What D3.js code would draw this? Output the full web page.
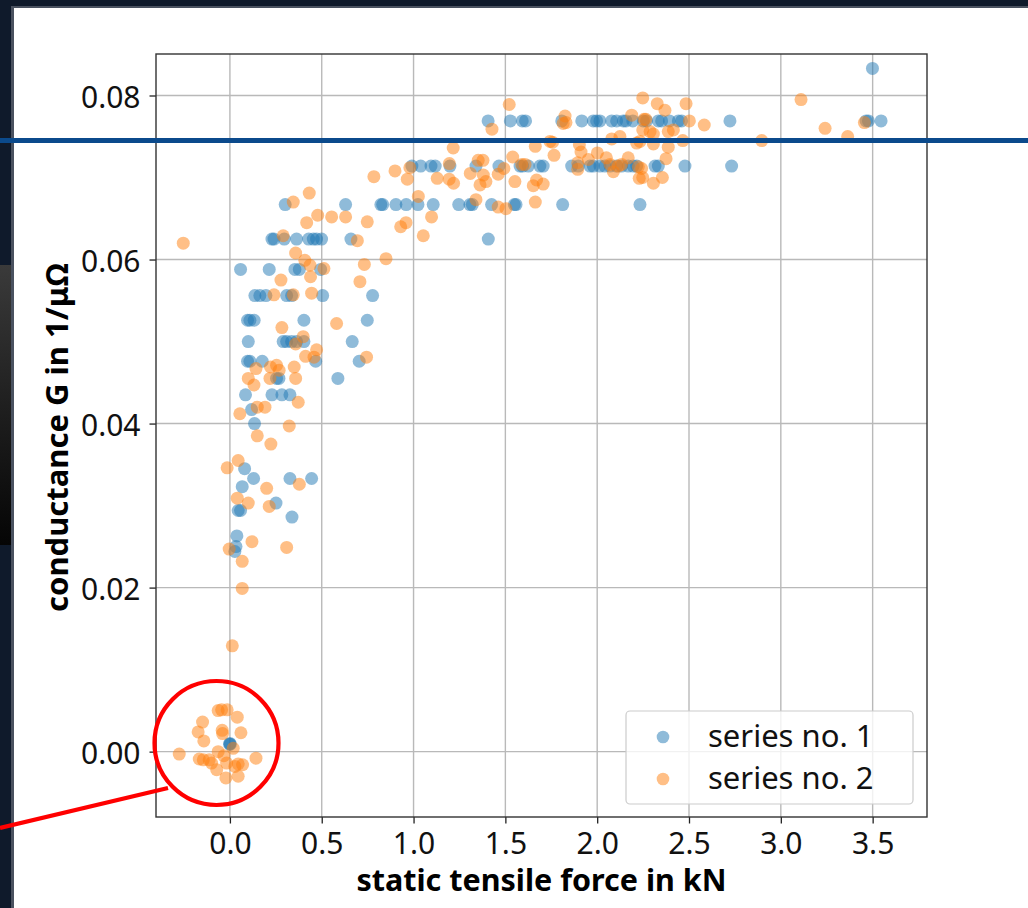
<!DOCTYPE html>
<html>
<head>
<meta charset="utf-8">
<script src="https://cdn.jsdelivr.net/npm/d3@7"></script>
<style>
  html, body { margin: 0; padding: 0; background: #0f1a2b; }
  svg { display: block; }
</style>
</head>
<body>
<svg id="chart" width="1028" height="908"></svg>
<script>
// ---------------- data ----------------
const xTicks = [0.0, 0.5, 1.0, 1.5, 2.0, 2.5, 3.0, 3.5];
const yTicks = [0.00, 0.02, 0.04, 0.06, 0.08];
const seriesNames = ["series no. 1", "series no. 2"];
const xLabel = "static tensile force in kN";
const yLabel = "conductance G in 1/\u03bc\u03a9";

// series no. 1 : [force kN, conductance 1/µΩ]
const series1 = [
  [3.499, 0.0833],
  [1.406, 0.0769], [1.527, 0.0769], [1.592, 0.0769], [1.610, 0.0769], [1.807, 0.0769], [1.916, 0.0769],
  [1.979, 0.0769], [1.997, 0.0769], [2.015, 0.0769], [2.079, 0.0769], [2.106, 0.0769], [2.142, 0.0769],
  [2.157, 0.0769], [2.194, 0.0769], [2.251, 0.0769], [2.269, 0.0769], [2.333, 0.0769], [2.351, 0.0769],
  [2.393, 0.0769], [2.442, 0.0769], [2.460, 0.0769], [2.723, 0.0769], [3.464, 0.0769], [3.477, 0.0769],
  [3.546, 0.0769],
  [0.991, 0.0714], [1.039, 0.0714], [1.095, 0.0714], [1.118, 0.0714], [1.198, 0.0714], [1.340, 0.0714],
  [1.465, 0.0714], [1.580, 0.0714], [1.594, 0.0714], [1.625, 0.0714], [1.688, 0.0714], [1.706, 0.0714],
  [1.861, 0.0714], [1.897, 0.0714], [1.961, 0.0714], [1.979, 0.0714], [2.015, 0.0714], [2.042, 0.0714],
  [2.070, 0.0714], [2.106, 0.0714], [2.133, 0.0714], [2.169, 0.0714], [2.196, 0.0714], [2.215, 0.0714],
  [2.315, 0.0714], [2.333, 0.0714], [2.478, 0.0714], [2.732, 0.0714],
  [0.301, 0.0667], [0.630, 0.0667], [0.822, 0.0667], [0.832, 0.0667], [0.904, 0.0667], [0.960, 0.0667],
  [1.024, 0.0667], [1.107, 0.0667], [1.246, 0.0667], [1.307, 0.0667], [1.320, 0.0667], [1.425, 0.0667],
  [1.549, 0.0667], [1.558, 0.0667], [1.812, 0.0667], [2.233, 0.0667],
  [0.229, 0.0625], [0.240, 0.0625], [0.296, 0.0625], [0.363, 0.0625], [0.429, 0.0625], [0.454, 0.0625],
  [0.472, 0.0625], [0.499, 0.0625], [0.659, 0.0625], [1.407, 0.0625],
  [0.058, 0.0588], [0.214, 0.0588], [0.354, 0.0588], [0.378, 0.0588], [0.494, 0.0588],
  [0.136, 0.0556], [0.163, 0.0556], [0.196, 0.0556], [0.309, 0.0556], [0.336, 0.0556], [0.505, 0.0556],
  [0.777, 0.0556],
  [0.096, 0.0526], [0.109, 0.0526], [0.132, 0.0526], [0.403, 0.0526], [0.748, 0.0526],
  [0.100, 0.0500], [0.290, 0.0500], [0.309, 0.0500], [0.336, 0.0500], [0.363, 0.0500], [0.403, 0.0500],
  [0.666, 0.0500],
  [0.096, 0.0476], [0.109, 0.0476], [0.176, 0.0476], [0.467, 0.0476], [0.704, 0.0476],
  [0.254, 0.0455], [0.267, 0.0455], [0.588, 0.0455],
  [0.085, 0.0435], [0.229, 0.0435], [0.283, 0.0435], [0.327, 0.0435],
  [0.118, 0.0417], [0.134, 0.0400], [0.080, 0.0345],
  [0.129, 0.0333], [0.327, 0.0333], [0.445, 0.0333],
  [0.067, 0.0323], [0.251, 0.0303], [0.045, 0.0294], [0.058, 0.0294], [0.338, 0.0286],
  [0.038, 0.0263], [0.033, 0.0250], [0.027, 0.0244],
  [0.000, 0.0010], [0.002, 0.0009], [-0.002, 0.0009]
];

// series no. 2 : [force kN, conductance 1/µΩ]
const series2 = [
  [-0.064, 0.0050], [-0.045, 0.0051], [-0.015, 0.0051], [0.040, 0.0042], [-0.149, 0.0036], [-0.173, 0.0024],
  [-0.142, 0.0013], [-0.042, 0.0026], [-0.040, 0.0022], [0.060, 0.0023], [-0.276, -0.0003], [-0.167, -0.0009],
  [-0.145, -0.0010], [-0.113, -0.0010], [-0.100, -0.0014], [-0.072, -0.0022], [-0.064, 0.0000], [-0.033, -0.0005],
  [-0.018, -0.0014], [0.018, 0.0004], [0.027, -0.0018], [0.045, -0.0015], [0.069, -0.0016], [0.045, -0.0030],
  [-0.022, -0.0032], [0.142, -0.0008], [0.013, 0.0129],
  [0.283, 0.0517], [0.581, 0.0522], [0.399, 0.0506], [0.358, 0.0497], [0.412, 0.0482], [0.472, 0.0490],
  [0.458, 0.0481], [0.744, 0.0481], [0.142, 0.0467], [0.221, 0.0469], [0.254, 0.0471], [0.268, 0.0465],
  [0.350, 0.0469], [0.100, 0.0455], [0.131, 0.0447], [0.218, 0.0455], [0.358, 0.0455], [0.372, 0.0426],
  [0.149, 0.0420], [0.191, 0.0420], [0.054, 0.0412], [0.323, 0.0397], [0.149, 0.0385], [0.223, 0.0375],
  [0.045, 0.0355], [-0.015, 0.0346], [0.200, 0.0321], [0.378, 0.0326], [0.040, 0.0309], [0.100, 0.0303],
  [0.214, 0.0299], [0.120, 0.0256], [-0.004, 0.0247], [0.309, 0.0249], [0.067, 0.0232], [0.067, 0.0199],
  [-0.254, 0.0620], [0.345, 0.0670], [0.432, 0.0681], [0.784, 0.0701], [0.290, 0.0629], [0.418, 0.0645],
  [0.478, 0.0654], [0.554, 0.0652], [0.630, 0.0652], [0.748, 0.0646], [0.930, 0.0640], [0.358, 0.0608],
  [0.408, 0.0599], [0.436, 0.0593], [0.439, 0.0579], [0.512, 0.0589], [0.278, 0.0575], [0.240, 0.0557],
  [0.345, 0.0557], [0.445, 0.0559], [0.694, 0.0623], [0.732, 0.0594], [0.708, 0.0573], [0.850, 0.0601],
  [1.521, 0.0789], [1.427, 0.0759], [1.216, 0.0736], [1.540, 0.0725], [1.663, 0.0738], [1.743, 0.0744],
  [1.757, 0.0743], [1.352, 0.0721], [1.378, 0.0721], [1.195, 0.0717], [1.589, 0.0716], [1.607, 0.0716],
  [0.899, 0.0708], [0.980, 0.0712], [0.966, 0.0698], [1.129, 0.0699], [1.194, 0.0698], [1.218, 0.0693],
  [1.309, 0.0705], [1.380, 0.0703], [1.362, 0.0691], [1.394, 0.0695], [1.461, 0.0704], [1.492, 0.0711],
  [1.552, 0.0695], [1.652, 0.0690], [1.670, 0.0697], [1.706, 0.0692], [1.663, 0.0670], [1.026, 0.0677],
  [1.340, 0.0673], [1.461, 0.0664], [1.503, 0.0662], [1.098, 0.0652], [0.959, 0.0645], [1.053, 0.0629],
  [1.765, 0.0727], [1.815, 0.0766],
  [1.825, 0.0775], [1.830, 0.0767], [2.248, 0.0797], [2.327, 0.0790], [2.369, 0.0782], [2.484, 0.0790],
  [2.188, 0.0776], [2.255, 0.0771], [2.265, 0.0771], [2.502, 0.0769], [2.583, 0.0764], [3.110, 0.0795],
  [3.241, 0.0760], [3.364, 0.0750], [3.455, 0.0767], [2.896, 0.0745],
  [1.903, 0.0740], [1.912, 0.0731], [1.894, 0.0718], [1.894, 0.0710], [1.952, 0.0722], [2.001, 0.0730],
  [2.050, 0.0724], [2.070, 0.0716], [2.088, 0.0707], [2.115, 0.0714], [2.133, 0.0716], [2.169, 0.0724],
  [2.079, 0.0747], [2.124, 0.0750], [2.215, 0.0742], [2.233, 0.0744], [2.248, 0.0758], [2.288, 0.0756],
  [2.306, 0.0753], [2.387, 0.0756], [2.415, 0.0758], [2.306, 0.0741], [2.387, 0.0737], [2.466, 0.0745],
  [2.375, 0.0723], [2.242, 0.0711], [2.248, 0.0700], [2.306, 0.0693], [2.355, 0.0700], [2.224, 0.0713],
  [2.229, 0.0699]
];

const colors = ["#1f77b4", "#ff7f0e"];

// ---------------- drawing ----------------
const svg = d3.select("#chart");
const FONT = "'Noto Sans', 'Open Sans', sans-serif";

// slide background / frame
svg.append("rect").attr("x", 0).attr("y", 0).attr("width", 1028).attr("height", 908).attr("fill", "#0f1a2b");
const grad = svg.append("defs").append("linearGradient").attr("id", "leftimg").attr("x1", 0).attr("y1", 0).attr("x2", 0).attr("y2", 1);
grad.append("stop").attr("offset", "0%").attr("stop-color", "#3a3a3a");
grad.append("stop").attr("offset", "60%").attr("stop-color", "#1a1a1a");
grad.append("stop").attr("offset", "100%").attr("stop-color", "#050505");
svg.append("rect").attr("x", 0).attr("y", 265).attr("width", 11).attr("height", 280).attr("fill", "url(#leftimg)");
svg.append("rect").attr("x", 11).attr("y", 6).attr("width", 1017).attr("height", 902).attr("fill", "#4a5260");
svg.append("rect").attr("x", 14).attr("y", 8).attr("width", 1014).attr("height", 900).attr("fill", "#ffffff");

// plot area
const L = 156, R = 927, T = 54, B = 817;
const x = d3.scaleLinear().domain([-0.4025, 3.796]).range([L, R]);
const y = d3.scaleLinear().domain([-0.00797, 0.08506]).range([B, T]);

// grid
const grid = svg.append("g");
grid.selectAll("line.gx").data(xTicks).join("line")
  .attr("x1", d => x(d)).attr("x2", d => x(d)).attr("y1", T).attr("y2", B)
  .attr("stroke", "#b9b9b9").attr("stroke-width", 1.4);
grid.selectAll("line.gy").data(yTicks).join("line")
  .attr("y1", d => y(d)).attr("y2", d => y(d)).attr("x1", L).attr("x2", R)
  .attr("stroke", "#b9b9b9").attr("stroke-width", 1.4);

// points
const pts = svg.append("g");
[series1, series2].forEach((s, i) => {
  pts.append("g").selectAll("circle").data(s).join("circle")
    .attr("cx", d => x(d[0])).attr("cy", d => y(d[1])).attr("r", 6.5)
    .attr("fill", colors[i]).attr("fill-opacity", 0.5);
});

// axes
const xAxis = d3.axisBottom(x).tickValues(xTicks).tickFormat(d3.format(".1f")).tickSizeOuter(0).tickSize(6.5).tickPadding(9);
const yAxis = d3.axisLeft(y).tickValues(yTicks).tickFormat(d3.format(".2f")).tickSizeOuter(0).tickSize(6.5).tickPadding(9);
const gx = svg.append("g").attr("transform", `translate(0,${B})`).call(xAxis);
const gy = svg.append("g").attr("transform", `translate(${L},0)`).call(yAxis);
[gx, gy].forEach(g => {
  g.select(".domain").remove();
  g.selectAll(".tick line").attr("stroke", "#222").attr("stroke-width", 1.3);
  g.selectAll(".tick text").attr("fill", "#111").style("font-family", FONT).style("font-size", "30px");
});
gx.selectAll(".tick text").attr("dy", "0.72em");
gy.selectAll(".tick text").attr("dy", "0.4em");

// frame
svg.append("rect").attr("x", L).attr("y", T).attr("width", R - L).attr("height", B - T)
  .attr("fill", "none").attr("stroke", "#333").attr("stroke-width", 1.4);

// axis labels
svg.append("text").attr("x", (L + R) / 2).attr("y", 891).attr("text-anchor", "middle")
  .style("font-family", FONT).style("font-size", "30.5px").style("font-weight", "bold").attr("fill", "#000")
  .text(xLabel);
svg.append("text").attr("transform", `translate(68,${(T + B) / 2 + 2}) rotate(-90)`).attr("text-anchor", "middle")
  .style("font-family", FONT).style("font-size", "31px").style("font-weight", "bold").attr("fill", "#000")
  .text(yLabel);

// legend
const lg = svg.append("g");
lg.append("rect").attr("x", 626).attr("y", 711).attr("width", 287).attr("height", 93).attr("rx", 4)
  .attr("fill", "#ffffff").attr("fill-opacity", 0.8).attr("stroke", "#cccccc").attr("stroke-width", 1.2);
const legendRows = [737, 779];
seriesNames.forEach((name, i) => {
  lg.append("circle").attr("cx", 663).attr("cy", legendRows[i]).attr("r", 6.3)
    .attr("fill", colors[i]).attr("fill-opacity", 0.5);
  lg.append("text").attr("x", 708).attr("y", legendRows[i] + 10).attr("fill", "#111")
    .style("font-family", FONT).style("font-size", "31px").text(name);
});

// slide annotations
svg.append("line").attr("x1", 0).attr("x2", 1028).attr("y1", 140.5).attr("y2", 140.5)
  .attr("stroke", "#0b4a8c").attr("stroke-width", 5);
svg.append("circle").attr("cx", 216.5).attr("cy", 743).attr("r", 62)
  .attr("fill", "none").attr("stroke", "#ff0000").attr("stroke-width", 4.2);
svg.append("line").attr("x1", 0).attr("y1", 828).attr("x2", 168).attr("y2", 788)
  .attr("stroke", "#ff0000").attr("stroke-width", 4.2);
</script>
</body>
</html>
